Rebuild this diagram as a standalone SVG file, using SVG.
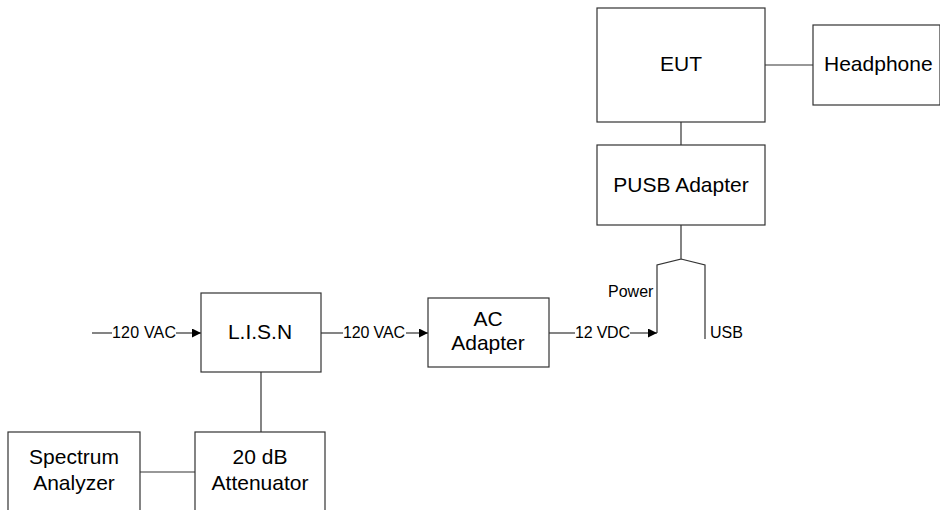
<svg xmlns="http://www.w3.org/2000/svg" width="940" height="510" viewBox="0 0 940 510">
<style>
.box{fill:#fff;stroke:#333;stroke-width:1.2}
.ln{fill:none;stroke:#333;stroke-width:1.2}
.big{font-family:"Liberation Sans",Arial,sans-serif;font-size:21px;fill:#000;text-anchor:middle}
.sm{font-family:"Liberation Sans",Arial,sans-serif;font-size:16px;fill:#000}
</style>
<defs>
<marker id="arr" markerWidth="9" markerHeight="9" refX="9" refY="4.5" orient="auto" markerUnits="userSpaceOnUse">
<path d="M0,0 L9,4.5 L0,9 Z" fill="#000"/>
</marker>
</defs>
<rect width="940" height="510" fill="#fff"/>
<g id="connectors">
<line class="ln" x1="765" y1="65" x2="813" y2="65"/>
<line class="ln" x1="681" y1="122" x2="681" y2="145"/>
<polyline class="ln" points="681,225 681,259 657,265 657,333"/>
<polyline class="ln" points="681,259 705,265 705,339"/>
<line class="ln" x1="92" y1="333" x2="112" y2="333"/>
<line class="ln" x1="176" y1="333" x2="201" y2="333" marker-end="url(#arr)"/>
<line class="ln" x1="321" y1="333" x2="343" y2="333"/>
<line class="ln" x1="406" y1="333" x2="428" y2="333" marker-end="url(#arr)"/>
<line class="ln" x1="549" y1="333" x2="575" y2="333"/>
<line class="ln" x1="630" y1="333" x2="657" y2="333" marker-end="url(#arr)"/>
<line class="ln" x1="261" y1="372" x2="261" y2="432"/>
<line class="ln" x1="140" y1="472" x2="195" y2="472"/>
<text class="sm" x="112" y="338" textLength="64">120 VAC</text>
<text class="sm" x="343" y="338" textLength="62">120 VAC</text>
<text class="sm" x="575" y="338" textLength="55">12 VDC</text>
<text class="sm" x="608" y="297">Power</text>
<text class="sm" x="710" y="338">USB</text>
</g>
<g id="eut">
<rect class="box" x="597" y="8" width="168" height="114"/>
<text class="big" x="681" y="71">EUT</text>
</g>
<g id="headphone">
<rect class="box" x="813" y="25" width="127" height="80"/>
<text class="big" x="824" y="71" style="text-anchor:start">Headphone</text>
</g>
<g id="pusb">
<rect class="box" x="597" y="145" width="168" height="80"/>
<text class="big" x="681" y="192">PUSB Adapter</text>
</g>
<g id="lisn">
<rect class="box" x="201" y="293" width="120" height="79"/>
<text class="big" x="260" y="339">L.I.S.N</text>
</g>
<g id="acadapter">
<rect class="box" x="428" y="298" width="121" height="69"/>
<text class="big" x="488" y="326">AC</text>
<text class="big" x="488" y="350">Adapter</text>
</g>
<g id="spectrum">
<rect class="box" x="8" y="432" width="132" height="90"/>
<text class="big" x="74" y="464">Spectrum</text>
<text class="big" x="74" y="490">Analyzer</text>
</g>
<g id="attenuator">
<rect class="box" x="195" y="432" width="130" height="90"/>
<text class="big" x="260" y="464">20 dB</text>
<text class="big" x="260" y="490">Attenuator</text>
</g>
</svg>
